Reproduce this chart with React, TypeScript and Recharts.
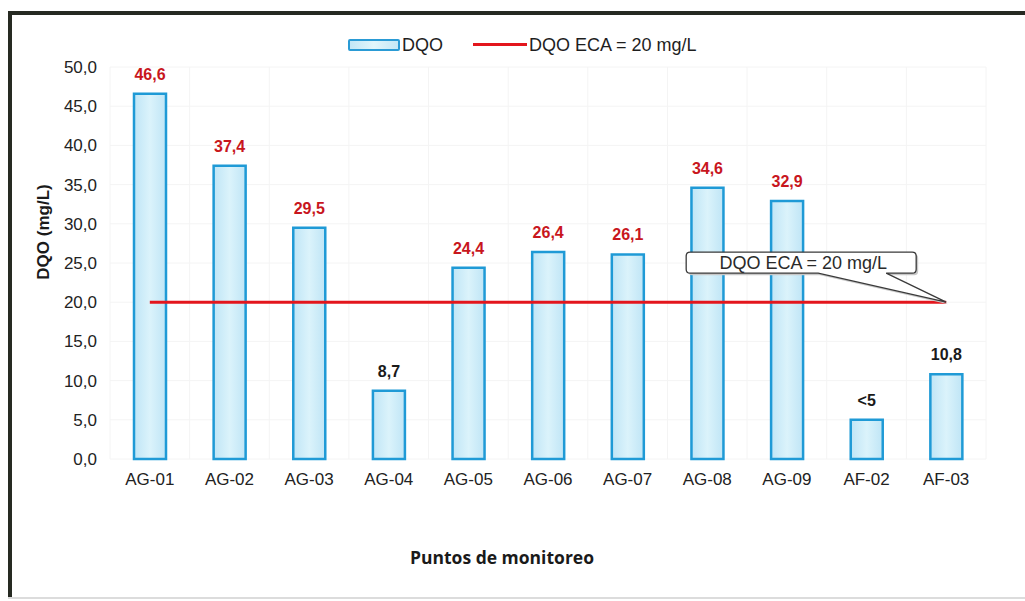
import React from 'react';
import { ComposedChart, Bar, Line, XAxis, YAxis, CartesianGrid, LabelList, Legend } from 'recharts';

const categories = ['AG-01', 'AG-02', 'AG-03', 'AG-04', 'AG-05', 'AG-06', 'AG-07', 'AG-08', 'AG-09', 'AF-02', 'AF-03'];
const dqoValues = [46.6, 37.4, 29.5, 8.7, 24.4, 26.4, 26.1, 34.6, 32.9, 5, 10.8];
const dqoLabels = ['46,6', '37,4', '29,5', '8,7', '24,4', '26,4', '26,1', '34,6', '32,9', '<5', '10,8'];
const ecaValues = [20, 20, 20, 20, 20, 20, 20, 20, 20, 20, 20];
const yTicks = [0, 5, 10, 15, 20, 25, 30, 35, 40, 45, 50];
const ecaText = 'DQO ECA = 20 mg/L';

const data = categories.map((name, i) => ({
  name,
  dqo: dqoValues[i],
  label: dqoLabels[i],
  eca: ecaValues[i],
}));

const FONT = '"Liberation Sans", Arial, sans-serif';

const fmt = (v: number) => v.toFixed(1).replace('.', ',');

const BarValueLabel = (props: any) => {
  const { x, y, width, index } = props;
  const row = data[index];
  const color = row.dqo > row.eca ? '#c8161d' : '#1a1a1a';
  return (
    <text
      x={x + width / 2}
      y={y - 14}
      textAnchor="middle"
      fontFamily={FONT}
      fontWeight={700}
      fontSize={16}
      fill={color}
    >
      {row.label}
    </text>
  );
};

const Callout = (props: any) => {
  const { x, y, index } = props;
  if (index !== data.length - 1) return null;
  const px = x;
  const py = y;
  const L = px - 260;
  const R = px - 30;
  const T = py - 50;
  const B = py - 29;
  const r = 4;
  const d = `M ${L + r} ${T} H ${R - r} Q ${R} ${T} ${R} ${T + r} V ${B - r} Q ${R} ${B} ${R - r} ${B} H ${px - 60} L ${px} ${py} L ${px - 128} ${B} H ${L + r} Q ${L} ${B} ${L} ${B - r} V ${T + r} Q ${L} ${T} ${L + r} ${T} Z`;
  return (
    <g>
      <path d={d} transform="translate(2,2)" fill="#c8c8c8" stroke="none" />
      <path d={d} fill="#ffffff" stroke="#3a3a3a" strokeWidth={1.3} />
      <text
        x={(L + R) / 2 + 2}
        y={(T + B) / 2 + 6}
        textAnchor="middle"
        fontFamily={FONT}
        fontSize={18}
        fill="#2a2a2a"
      >
        {ecaText}
      </text>
    </g>
  );
};

const LegendContent = () => (
  <div style={{ position: 'relative', height: 0, width: 1025, fontFamily: FONT, fontSize: 18, color: '#1e1e1e' }}>
    <div
      style={{
        position: 'absolute',
        left: 348,
        top: 39,
        width: 48,
        height: 8,
        border: '2px solid #2a9bd5',
        borderRadius: 2,
        background: 'linear-gradient(to right, #c3e7f6, #e2f6fb, #c3e7f6)',
      }}
    />
    <div style={{ position: 'absolute', left: 402, top: 34, lineHeight: '22px', whiteSpace: 'nowrap' }}>DQO</div>
    <div style={{ position: 'absolute', left: 473, top: 43, width: 54, height: 3, background: '#e3161d' }} />
    <div style={{ position: 'absolute', left: 529, top: 34, lineHeight: '22px', whiteSpace: 'nowrap' }}>{ecaText}</div>
  </div>
);

export default function App() {
  const n = categories.length;
  return (
    <div style={{ position: 'absolute', left: 0, top: 0, width: 1025, height: 601, background: '#ffffff', overflow: 'hidden' }}>
      <div style={{ position: 'absolute', left: 8, top: 11, width: 1017, height: 4, background: '#262a22' }} />
      <div style={{ position: 'absolute', left: 8, top: 11, width: 4, height: 587, background: '#262a22' }} />
      <div style={{ position: 'absolute', left: 8, top: 597, width: 1017, height: 2, background: '#dcdcdc' }} />
      <div style={{ position: 'absolute', left: 0, top: 0 }}>
        <ComposedChart
          width={1025}
          height={601}
          data={data}
          margin={{ top: 67, right: 39, bottom: 112, left: 0 }}
          barCategoryGap={0}
        >
          <defs>
            <linearGradient id="barFill" x1="0" y1="0" x2="1" y2="0">
              <stop offset="0%" stopColor="#bfe5f6" />
              <stop offset="50%" stopColor="#dbf3fb" />
              <stop offset="100%" stopColor="#bfe5f6" />
            </linearGradient>
          </defs>
          <CartesianGrid
            stroke="#f4f4f4"
            strokeWidth={1}
            verticalCoordinatesGenerator={({ offset }: any) =>
              Array.from({ length: n + 1 }, (_, i) => offset.left + (i * offset.width) / n)
            }
          />
          <XAxis
            dataKey="name"
            axisLine={false}
            tickLine={false}
            tickMargin={8}
            height={30}
            interval={0}
            tick={{ fontFamily: FONT, fontSize: 17, fill: '#222222' }}
          />
          <YAxis
            domain={[0, 50]}
            ticks={yTicks}
            axisLine={false}
            tickLine={false}
            tickMargin={7}
            width={110}
            tickFormatter={fmt}
            tick={{ fontFamily: FONT, fontSize: 17, fill: '#222222' }}
          />
          <Legend verticalAlign="top" content={<LegendContent />} wrapperStyle={{ top: 0, left: 0, width: 1025, height: 0 }} />
          <Bar
            dataKey="dqo"
            name="DQO"
            barSize={32}
            fill="url(#barFill)"
            stroke="#1f9ad6"
            strokeWidth={2.5}
            isAnimationActive={false}
          >
            <LabelList dataKey="dqo" content={<BarValueLabel />} />
          </Bar>
          <Line
            dataKey="eca"
            name={ecaText}
            stroke="#e3161d"
            strokeWidth={3}
            dot={false}
            activeDot={false}
            isAnimationActive={false}
          >
            <LabelList dataKey="eca" content={<Callout />} />
          </Line>
          <text
            x={43}
            y={232}
            transform="rotate(-90 43 232)"
            textAnchor="middle"
            dominantBaseline="central"
            fontFamily={FONT}
            fontWeight={700}
            fontSize={17}
            fill="#1a1a1a"
          >
            DQO (mg/L)
          </text>
          <text
            x={502}
            y={564}
            textAnchor="middle"
            fontFamily='"Open Sans", sans-serif'
            fontWeight={700}
            fontSize={17.5}
            fill="#1a1a1a"
          >
            Puntos de monitoreo
          </text>
        </ComposedChart>
      </div>
    </div>
  );
}
